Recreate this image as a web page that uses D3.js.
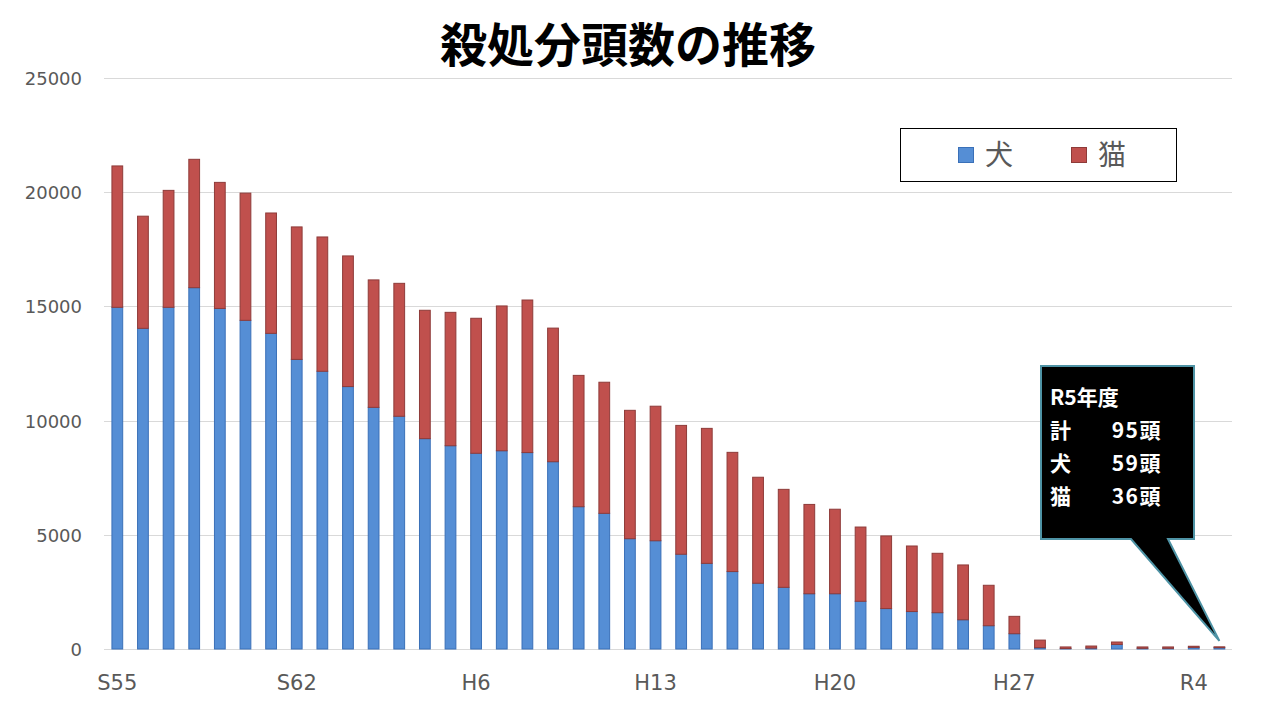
<!DOCTYPE html>
<html>
<head>
<meta charset="utf-8">
<script src="https://cdn.jsdelivr.net/npm/d3@7"></script>
<style>
  html, body { margin: 0; padding: 0; background: #ffffff; }
  svg { display: block; }
</style>
</head>
<body>
<svg id="chart" width="1280" height="720"></svg>
<script>
// ---- data ----
const years = [
  "S55","S56","S57","S58","S59","S60","S61","S62","S63",
  "H1","H2","H3","H4","H5","H6","H7","H8","H9","H10",
  "H11","H12","H13","H14","H15","H16","H17","H18","H19","H20",
  "H21","H22","H23","H24","H25","H26","H27","H28","H29","H30",
  "R1","R2","R3","R4","R5"
];
const dogs = [
  14960,14040,14960,15820,14910,14390,13820,12680,12160,
  11490,10580,10190,9210,8900,8570,8680,8600,8200,6230,
  5940,4830,4740,4150,3750,3390,2880,2700,2420,2420,
  2090,1770,1640,1590,1280,1020,670,60,20,40,
  200,30,30,70,59
];
const cats = [
  6190,4910,5120,5620,5520,5570,5270,5800,5880,
  5720,5580,5820,5620,5840,5910,6340,6680,5850,5750,
  5740,5620,5890,5640,5910,5220,4640,4290,3910,3700,
  3250,3180,2870,2600,2400,1770,760,330,70,90,
  106,60,60,50,36
];
const xTickLabels = ["S55","S62","H6","H13","H20","H27","R4"];
const yTicks = [0,5000,10000,15000,20000,25000];
const seriesNames = ["犬","猫"];
const titleText = "殺処分頭数の推移";
const calloutLines = [["R5年度",""],["計","95頭"],["犬","59頭"],["猫","36頭"]];

// ---- layout ----
const svg = d3.select("#chart");
const colors = { "犬": "#558ED5", "猫": "#C0504D" };
const strokes = { "犬": "#3A70B8", "猫": "#8E3B39" };

const x = d3.scaleBand().domain(years).range([104.5, 1232.2]).paddingInner(0.58).paddingOuter(0.29);
const y = d3.scaleLinear().domain([0, 25000]).range([649, 78]);

// gridlines
svg.append("g").selectAll("line").data(yTicks).join("line")
  .attr("x1", 104).attr("x2", 1232)
  .attr("y1", d => Math.round(y(d)) + 0.5).attr("y2", d => Math.round(y(d)) + 0.5)
  .attr("stroke", "#d9d9d9").attr("stroke-width", 1);

// y axis labels
const yAxis = d3.axisLeft(y).tickValues(yTicks).tickFormat(d3.format("d")).tickSize(0).tickPadding(0);
const gy = svg.append("g").attr("transform", "translate(82,0)").call(yAxis);
gy.select(".domain").remove();
gy.selectAll("text").attr("fill", "#595959").attr("font-family", "DejaVu Sans")
  .attr("font-size", 18).attr("dy", "0.36em");

// x axis labels
const xAxis = d3.axisBottom(x).tickValues(xTickLabels).tickSize(0).tickPadding(0);
const gx = svg.append("g").attr("transform", "translate(0,675)").call(xAxis);
gx.select(".domain").remove();
gx.selectAll("text").attr("fill", "#595959").attr("font-family", "DejaVu Sans")
  .attr("font-size", 21).attr("dy", "0.72em");

// stacked bars
const rows = years.map((yr, i) => ({ year: yr, "犬": dogs[i], "猫": cats[i] }));
const stack = d3.stack().keys(seriesNames)(rows);
svg.append("g").selectAll("g").data(stack).join("g")
  .attr("fill", d => colors[d.key]).attr("stroke", d => strokes[d.key]).attr("stroke-width", 1)
  .selectAll("rect").data(d => d).join("rect")
  .attr("x", d => x(d.data.year))
  .attr("width", x.bandwidth())
  .attr("y", d => y(d[1]))
  .attr("height", d => Math.max(0, y(d[0]) - y(d[1])));

// title
svg.append("text").attr("x", 628).attr("y", 62).attr("text-anchor", "middle")
  .attr("font-family", "Noto Sans CJK JP").attr("font-weight", 700).attr("font-size", 47)
  .attr("fill", "#000").text(titleText);

// legend
const lg = svg.append("g");
lg.append("rect").attr("x", 900.5).attr("y", 128.5).attr("width", 276).attr("height", 53)
  .attr("fill", "#fff").attr("stroke", "#000").attr("stroke-width", 1);
const legendPos = [958, 1071];
seriesNames.forEach((s, i) => {
  lg.append("rect").attr("x", legendPos[i] + 0.5).attr("y", 147.5).attr("width", 15).attr("height", 15)
    .attr("fill", colors[s]).attr("stroke", strokes[s]);
  lg.append("text").attr("x", legendPos[i] + 27).attr("y", 165)
    .attr("font-family", "Noto Sans CJK JP").attr("font-size", 28).attr("fill", "#595959").text(s);
});

// callout
const last = years[years.length - 1];
const tipX = x(last) + x.bandwidth() / 2;
const tipY = y(dogs[dogs.length - 1] + cats[cats.length - 1]) - 6;
const bx0 = 1041, bx1 = 1194, by0 = 366, by1 = 539;
svg.append("path")
  .attr("d", `M${bx0},${by0} L${bx1},${by0} L${bx1},${by1} L1168,${by1} L${tipX},${tipY} L1131,${by1} L${bx0},${by1} Z`)
  .attr("fill", "#000").attr("stroke", "#4E93A5").attr("stroke-width", 2).attr("stroke-linejoin", "miter");
const ct = svg.append("g").attr("font-family", "Noto Sans CJK JP").attr("font-weight", 700)
  .attr("font-size", 21).attr("fill", "#fff");
calloutLines.forEach((ln, i) => {
  const yy = 405 + i * 33;
  ct.append("text").attr("x", 1050).attr("y", yy).text(ln[0]);
  if (ln[1]) ct.append("text").attr("x", 1162).attr("y", yy).attr("text-anchor", "end")
    .attr("letter-spacing", 1.5).text(ln[1]);
});
</script>
</body>
</html>
